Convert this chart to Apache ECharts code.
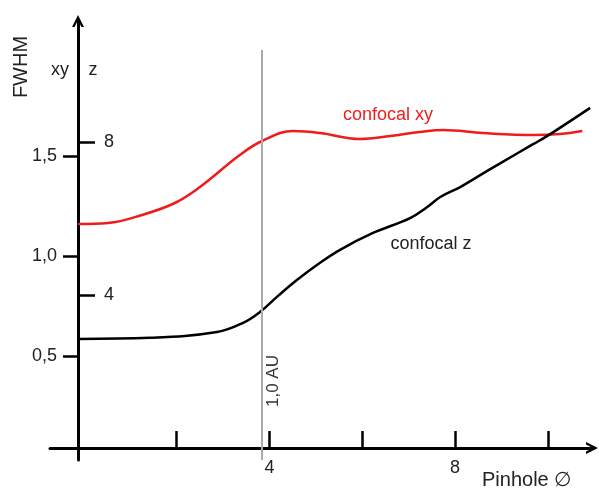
<!DOCTYPE html>
<html><head><meta charset="utf-8">
<script src="https://cdn.jsdelivr.net/npm/echarts@6/dist/echarts.min.js"></script>
<style>html,body{margin:0;padding:0;background:#fff}#c{width:599px;height:489px}</style>
</head><body><div id="c"></div>
<script>
// confocal xy (FWHM in xy units)
const pinholeXY = [-0.13, 0.52, 1.25, 1.96, 2.50, 3.36, 3.84, 4.51, 5.09, 5.95, 6.60, 7.24, 7.74, 8.60, 9.68, 10.26, 10.74];
const fwhmXY    = [1.16, 1.165, 1.205, 1.265, 1.345, 1.505, 1.575, 1.625, 1.615, 1.585, 1.60, 1.62, 1.63, 1.615, 1.605, 1.61, 1.625];
// confocal z (FWHM in z units)
const pinholeZ = [-0.13, 1.43, 2.87, 3.43, 3.80, 4.16, 4.59, 5.09, 5.52, 6.23, 7.03, 7.40, 7.68, 8.11, 8.47, 8.97, 9.68, 9.98, 10.91];
const fwhmZ    = [2.85, 2.88, 3.03, 3.27, 3.56, 3.95, 4.39, 4.84, 5.18, 5.62, 6.01, 6.30, 6.56, 6.82, 7.08, 7.44, 7.94, 8.15, 8.89];
const xyTicks = [0.5, 1.0, 1.5];
const zTicks = [4, 8];
const xTicks = [2, 4, 6, 8, 10];
const xLabelTicks = [4, 8];
const airyUnitX = 3.83;
const airyLabel = '1,0 AU';

const FONT = '"Liberation Sans", Arial, sans-serif';
const RED = '#ee1c1c';
const ARROW = 'path://M0,12 L6,0 L12,12 L9.4,12 L6,5 L2.6,12 Z';

const zip = (a, b) => a.map((v, i) => [v, b[i]]);

const chart = echarts.init(document.getElementById('c'), null, {renderer: 'canvas'});
chart.setOption({
  animation: false,
  backgroundColor: '#fff',
  grid: {left: 50, right: 7, top: 21, bottom: 29, containLabel: false},
  xAxis: {
    type: 'value', min: -0.73, max: 10.95,
    splitLine: {show: false},
    axisLine: {show: true, onZero: true, onZeroAxisIndex: 1,
      lineStyle: {color: '#000', width: 3},
      symbol: ['none', ARROW], symbolSize: [14, 12]},
    axisTick: {show: true, inside: true, length: 17, customValues: xTicks,
      lineStyle: {color: '#000', width: 2.5}},
    axisLabel: {show: true, customValues: xLabelTicks, margin: -1,
      fontSize: 18, fontFamily: FONT, color: '#222'}
  },
  yAxis: [
    {
      type: 'value', position: 'left', offset: -28,
      min: -0.02, max: 2.175,
      splitLine: {show: false},
      axisLine: {show: true, onZero: false,
        lineStyle: {color: '#000', width: 3},
        symbol: ['none', ARROW], symbolSize: [14, 12]},
      axisTick: {show: true, inside: false, length: 15, customValues: xyTicks,
        lineStyle: {color: '#000', width: 2.5}},
      axisLabel: {show: true, customValues: xyTicks, margin: 21,
        formatter: v => v.toFixed(1).replace('.', ','),
        fontSize: 18, fontFamily: FONT, color: '#222'}
    },
    {
      type: 'value', position: 'left', offset: -28,
      min: -0.3137, max: 11.16,
      splitLine: {show: false},
      axisLine: {show: false, onZero: false},
      axisTick: {show: true, inside: true, length: 17, customValues: zTicks,
        lineStyle: {color: '#000', width: 2.5}},
      axisLabel: {show: true, inside: true, customValues: zTicks, margin: 26,
        fontSize: 18, fontFamily: FONT, color: '#222'}
    }
  ],
  series: [
    {
      name: 'confocal xy', type: 'line', xAxisIndex: 0, yAxisIndex: 0,
      data: zip(pinholeXY, fwhmXY), smooth: 0.4, showSymbol: false, clip: false,
      lineStyle: {color: RED, width: 2.5}, itemStyle: {color: RED},
      markLine: {
        silent: true, symbol: ['none', 'none'], animation: false,
        lineStyle: {color: '#ababab', width: 2, type: 'solid'},
        label: {show: false},
        data: [[{coord: [airyUnitX, 2.03]}, {coord: [airyUnitX, -0.02]}]]
      }
    },
    {
      name: 'confocal z', type: 'line', xAxisIndex: 0, yAxisIndex: 1,
      data: zip(pinholeZ, fwhmZ), smooth: 0.4, showSymbol: false, clip: false,
      lineStyle: {color: '#000', width: 2.5}, itemStyle: {color: '#000'}
    }
  ],
  graphic: [
    {type: 'text', x: 21, y: 67, rotation: Math.PI / 2,
      style: {text: 'FWHM', fontSize: 20, fontFamily: FONT, fill: '#222', align: 'center', verticalAlign: 'middle'}},
    {type: 'text', x: 60, y: 70,
      style: {text: 'xy', fontSize: 18, fontFamily: FONT, fill: '#222', align: 'center', verticalAlign: 'middle'}},
    {type: 'text', x: 93, y: 70,
      style: {text: 'z', fontSize: 18, fontFamily: FONT, fill: '#222', align: 'center', verticalAlign: 'middle'}},
    {type: 'text', x: 482, y: 480,
      style: {text: 'Pinhole \u2205', fontSize: 20, fontFamily: FONT, fill: '#222', align: 'left', verticalAlign: 'middle'}},
    {type: 'text', x: 388, y: 115,
      style: {text: 'confocal xy', fontSize: 18, fontFamily: FONT, fill: RED, align: 'center', verticalAlign: 'middle'}},
    {type: 'text', x: 431, y: 244,
      style: {text: 'confocal z', fontSize: 18, fontFamily: FONT, fill: '#222', align: 'center', verticalAlign: 'middle'}},
    {type: 'text', x: 273, y: 381, rotation: Math.PI / 2,
      style: {text: airyLabel, fontSize: 17, fontFamily: FONT, fill: '#333', align: 'center', verticalAlign: 'middle'}}
  ]
});
</script>
</body></html>
